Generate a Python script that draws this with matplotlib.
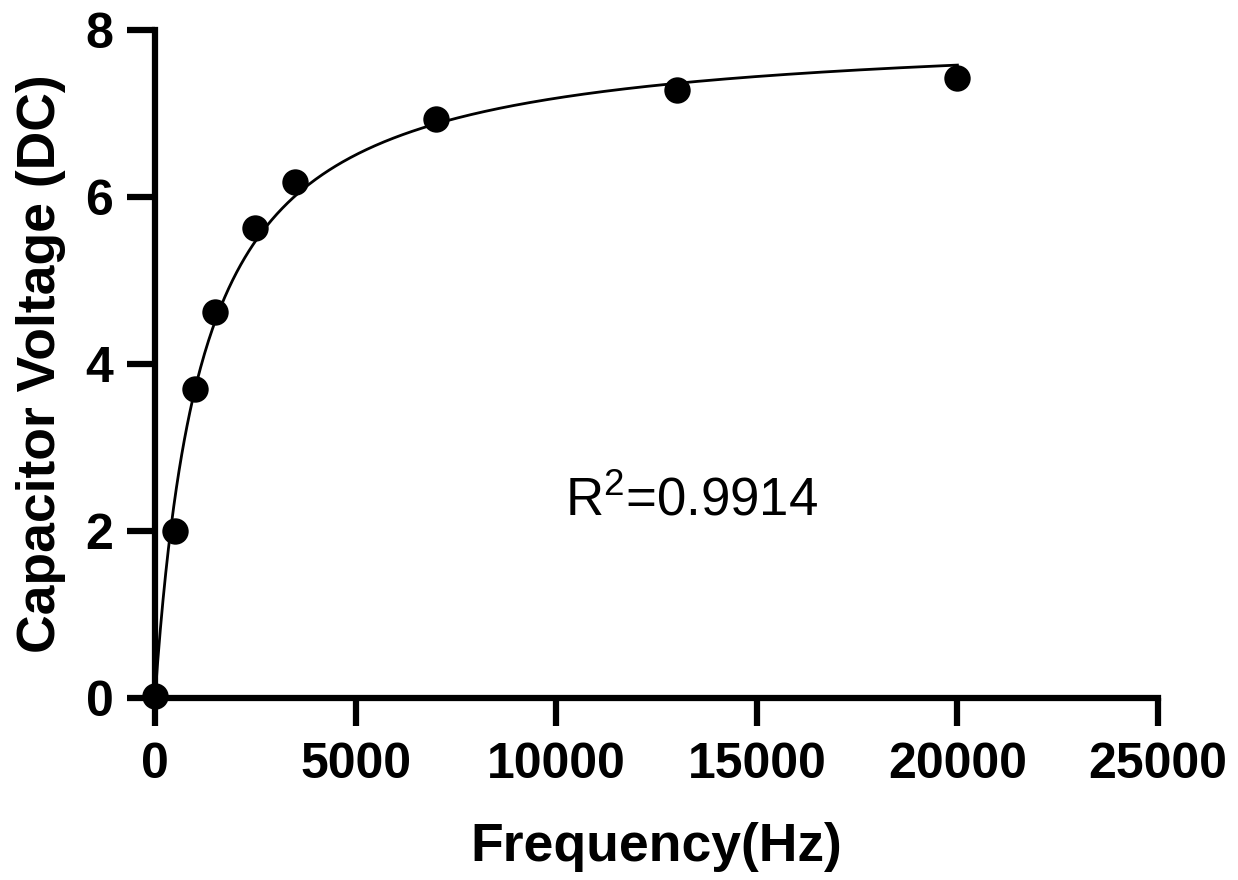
import numpy as np
import matplotlib
matplotlib.use("Agg")
import matplotlib.pyplot as plt

# Data
frequency_hz = [0, 500, 1000, 1500, 2500, 3500, 7000, 13000, 20000]
capacitor_voltage = [0.03, 2.00, 3.70, 4.62, 5.63, 6.18, 6.94, 7.28, 7.42]
x_ticks = [0, 5000, 10000, 15000, 20000, 25000]
y_ticks = [0, 2, 4, 6, 8]
r_squared_label = "R$^{2}$=0.9914"

plt.rcParams['font.family'] = ['Liberation Sans', 'DejaVu Sans']
plt.rcParams['mathtext.fontset'] = 'custom'
plt.rcParams['mathtext.rm'] = 'Liberation Sans'
plt.rcParams['mathtext.default'] = 'regular'

x = np.array(frequency_hz, dtype=float)
y = np.array(capacitor_voltage, dtype=float)

# Hyperbolic fit y = vmax * x / (k + x), least squares over k
best = None
for k in np.linspace(200, 4000, 3801):
    g = x / (k + x)
    vmax = np.sum(y * g) / np.sum(g * g)
    sse = np.sum((y - vmax * g) ** 2)
    if best is None or sse < best[0]:
        best = (sse, k, vmax)
_, k_fit, vmax_fit = best

x_curve = np.linspace(0, x.max(), 600)
y_curve = vmax_fit * x_curve / (k_fit + x_curve)

fig = plt.figure(figsize=(12.38, 8.8), dpi=100)
ax = fig.add_axes([0.1252, 0.2068, 0.8102, 0.7591])

ax.plot(x_curve, y_curve, color='black', linewidth=2, clip_on=False, zorder=2)
ax.plot(x, y, 'o', color='black', markersize=19, markeredgewidth=0,
        clip_on=False, zorder=3)

ax.set_xlim(0, 25000)
ax.set_ylim(0, 8)
ax.set_xticks(x_ticks)
ax.set_yticks(y_ticks)

for side in ['top', 'right']:
    ax.spines[side].set_visible(False)
for side in ['left', 'bottom']:
    ax.spines[side].set_linewidth(4.5)
    ax.spines[side].set_capstyle('projecting')

ax.tick_params(axis='both', length=20, width=4.5, labelsize=36, color='black')
ax.tick_params(axis='x', pad=12)
ax.tick_params(axis='y', pad=10)
for lbl in ax.get_xticklabels() + ax.get_yticklabels():
    lbl.set_fontweight('bold')

ax.set_xlabel('Frequency(Hz)', fontsize=38.5, fontweight='bold', labelpad=24)
ax.set_ylabel('Capacitor Voltage (DC)', fontsize=38.5, fontweight='bold', labelpad=14)

ax.text(13385, 2.19, r_squared_label, fontsize=38, ha='center', va='baseline')

fig.savefig('out.png', dpi=100)
